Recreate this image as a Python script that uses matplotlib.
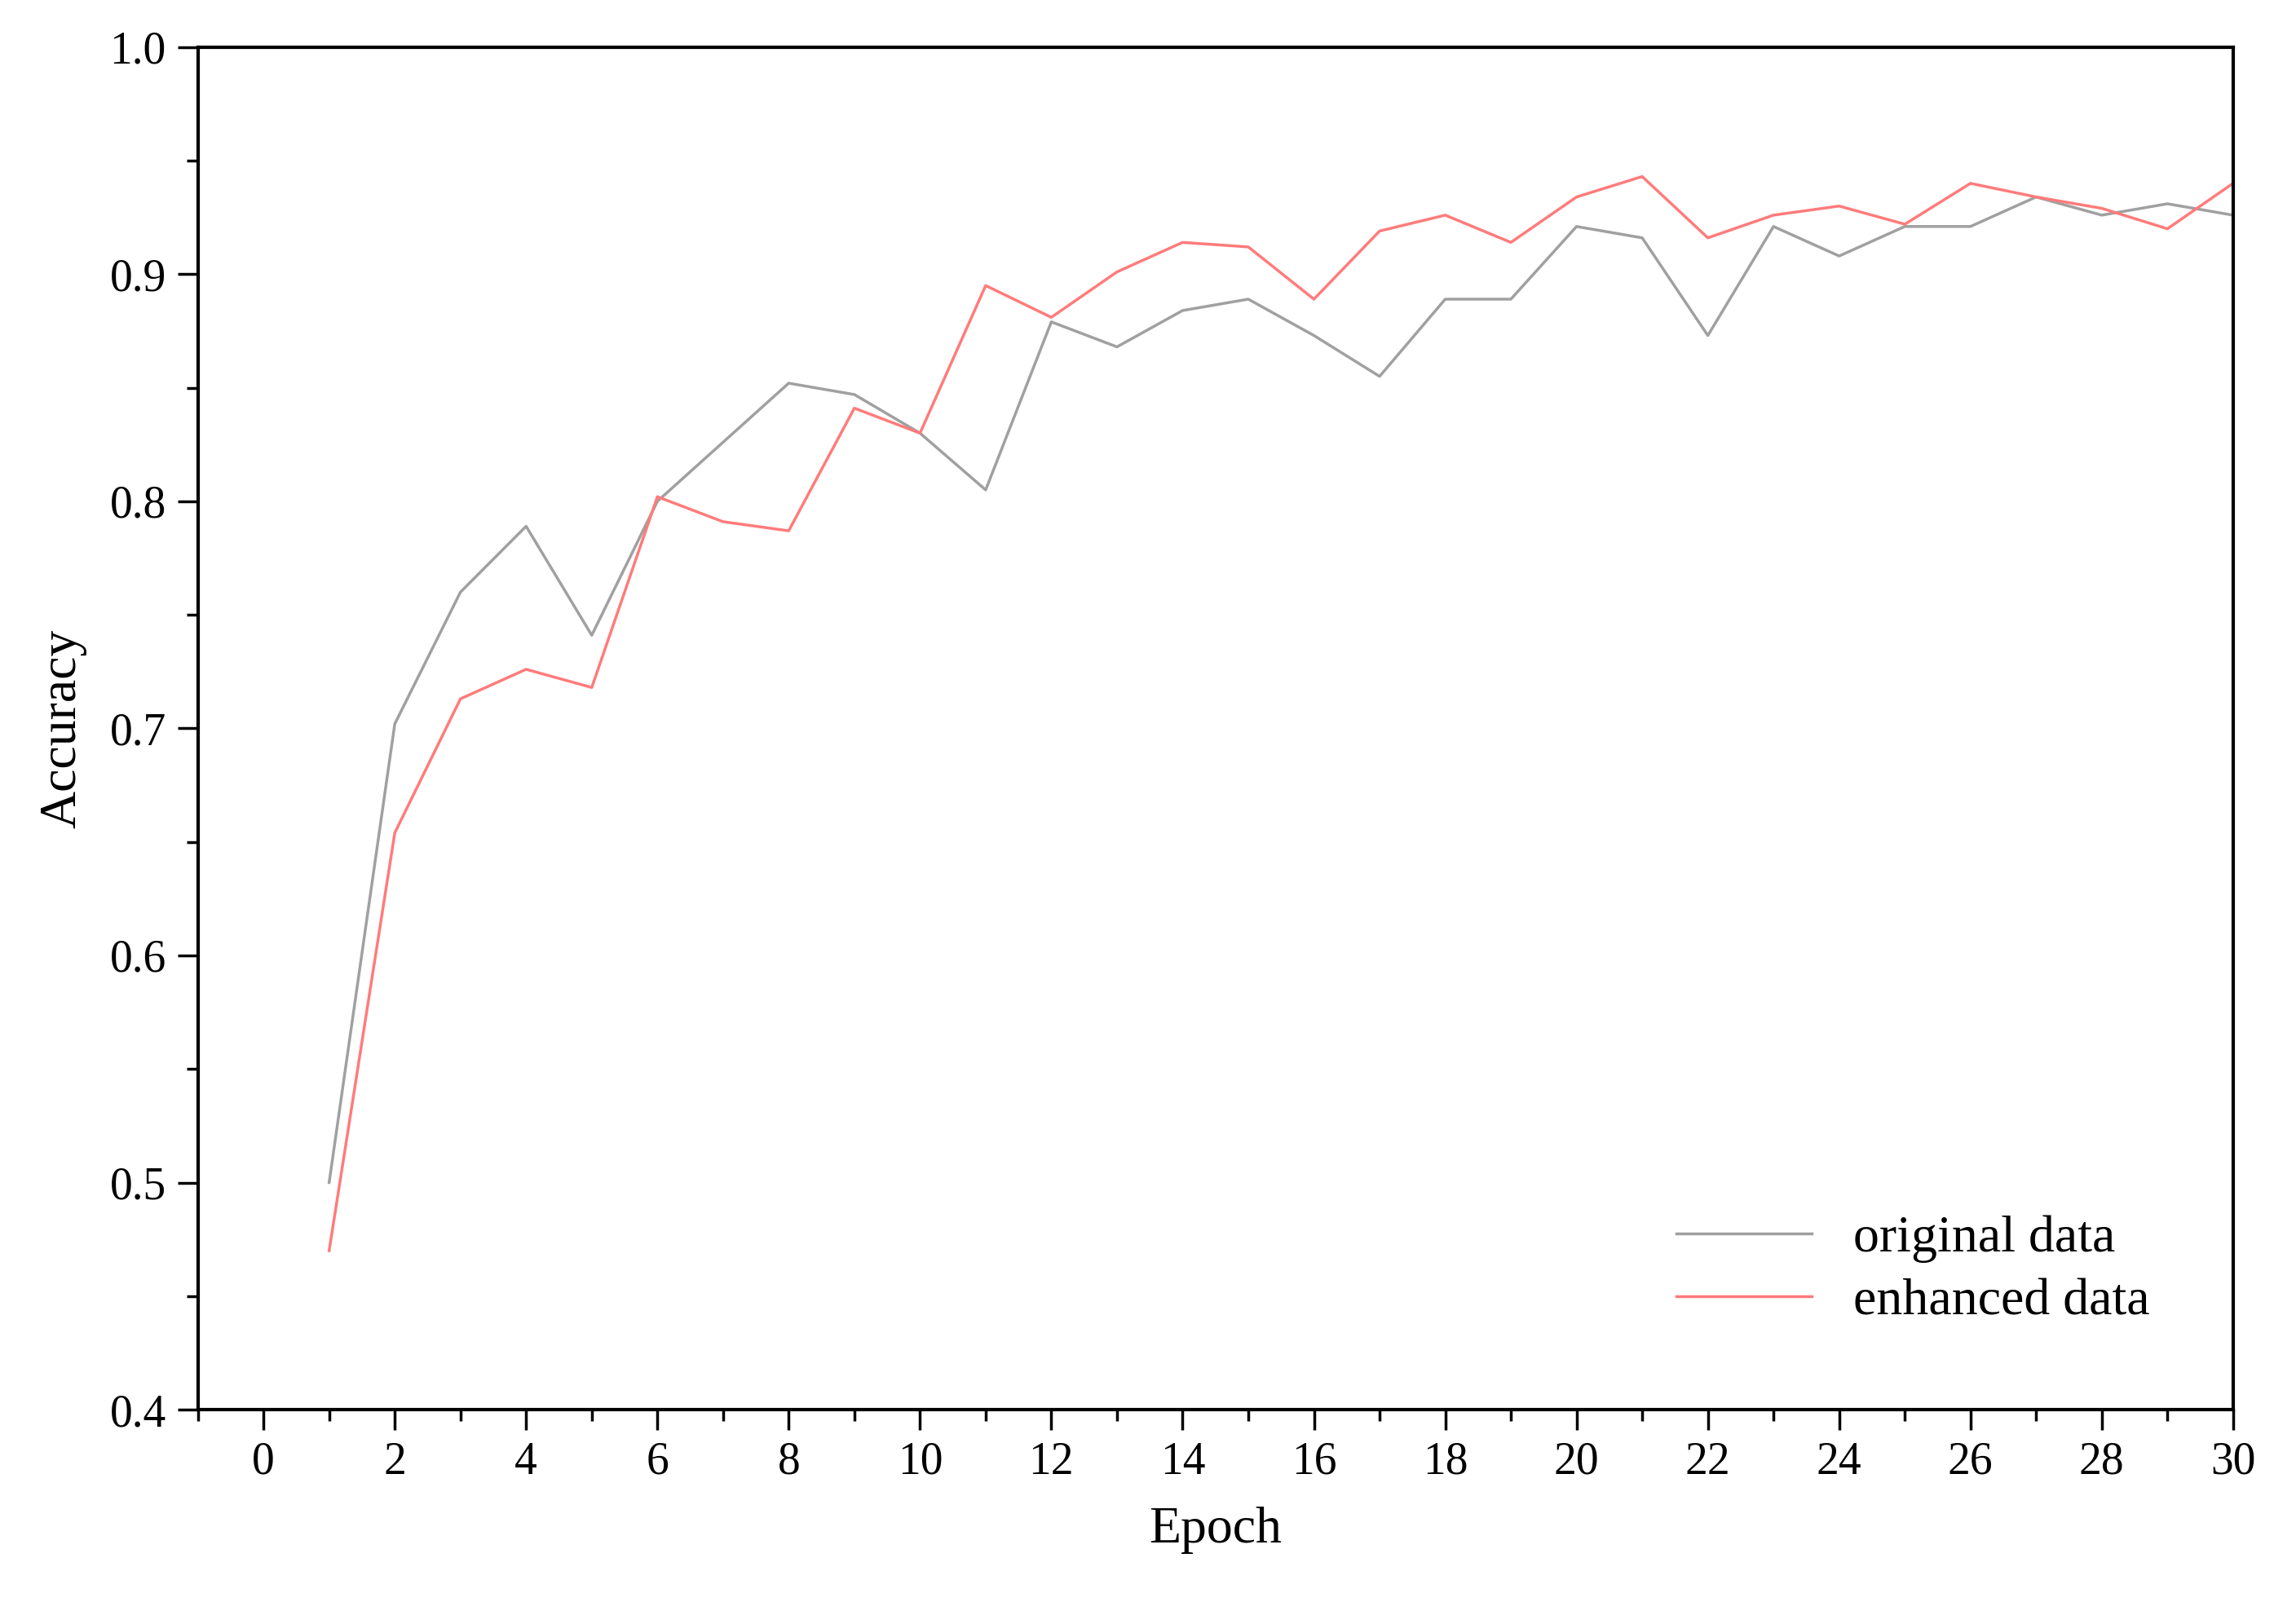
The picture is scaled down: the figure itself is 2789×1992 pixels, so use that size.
import matplotlib.pyplot as plt
from matplotlib.ticker import MultipleLocator

plt.rcParams['font.family'] = ['Liberation Serif', 'DejaVu Serif']

epochs = list(range(1, 31))
original = [0.500, 0.702, 0.760, 0.789, 0.741, 0.800, 0.826, 0.852, 0.847, 0.830,
            0.805, 0.879, 0.868, 0.884, 0.889, 0.873, 0.855, 0.889, 0.889, 0.921,
            0.916, 0.873, 0.921, 0.908, 0.921, 0.921, 0.934, 0.926, 0.931, 0.926]
enhanced = [0.470, 0.654, 0.713, 0.726, 0.718, 0.802, 0.791, 0.787, 0.841, 0.830,
            0.895, 0.881, 0.901, 0.914, 0.912, 0.889, 0.919, 0.926, 0.914, 0.934,
            0.943, 0.916, 0.926, 0.930, 0.922, 0.940, 0.934, 0.929, 0.920, 0.940]

fig = plt.figure(figsize=(27.89, 19.92), dpi=100)
ax = fig.add_axes([0.087, 0.132, 0.895, 0.839])
ax.plot(epochs, original, color='#a0a0a0', lw=2.5, label='original data')
ax.plot(epochs, enhanced, color='#ff7b7b', lw=2.5, label='enhanced data')

ax.set_xlim(-1, 30)
ax.set_ylim(0.4, 1.0)
ax.xaxis.set_major_locator(MultipleLocator(2))
ax.xaxis.set_minor_locator(MultipleLocator(1))
ax.yaxis.set_major_locator(MultipleLocator(0.1))
ax.yaxis.set_minor_locator(MultipleLocator(0.05))
ax.yaxis.set_major_formatter(plt.FuncFormatter(lambda v, p: f'{v:.1f}'))
ax.tick_params(which='major', direction='out', length=18, width=2.5, labelsize=40, pad=10)
ax.tick_params(which='minor', direction='out', length=10, width=2.5)
for s in ax.spines.values():
    s.set_linewidth(3)

ax.set_xlabel('Epoch', fontsize=46, labelpad=20)
ax.set_ylabel('Accuracy', fontsize=46, labelpad=20)
ax.legend(loc='lower right', fontsize=46, frameon=False, handlelength=2.6,
          borderaxespad=1.2, labelspacing=0.3)

fig.savefig('out.png', dpi=100)
